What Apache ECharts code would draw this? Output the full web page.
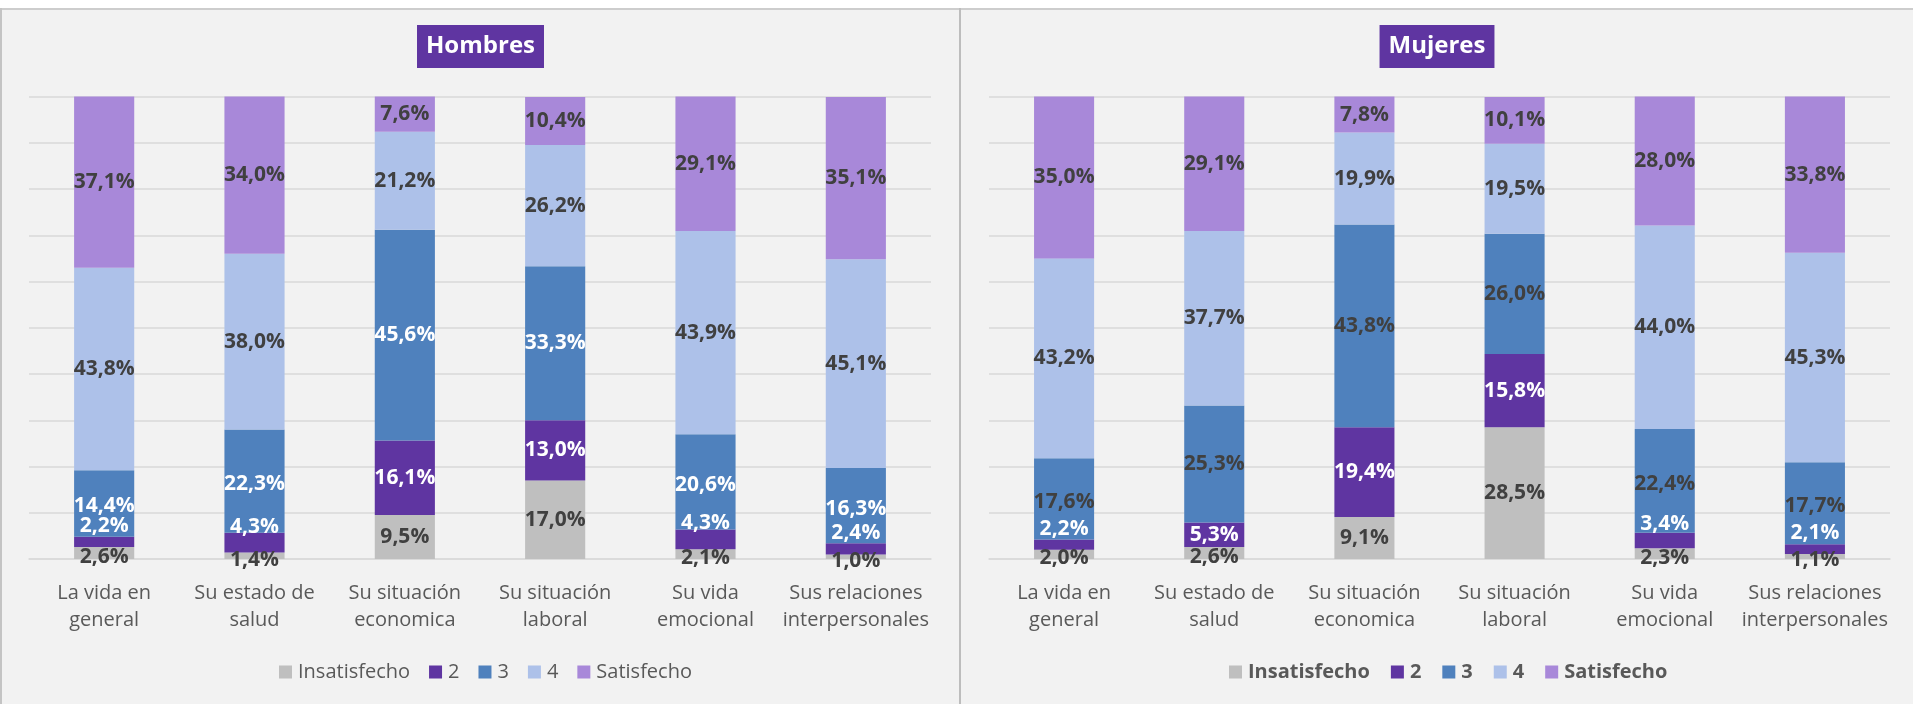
<!DOCTYPE html>
<html>
<head>
<meta charset="utf-8">
<script src="https://cdn.jsdelivr.net/npm/echarts@6/dist/echarts.min.js"></script>
<style>
  html, body { margin: 0; padding: 0; background: #ffffff; width: 1913px; height: 704px; overflow: hidden; }
  #bg { position: absolute; left: 0; top: 8px; width: 1913px; height: 696px; background: #f2f2f2; border-top: 2px solid #cdcdcd; box-sizing: border-box; }
  #lborder { position: absolute; left: 0; top: 8px; width: 2px; height: 696px; background: #c4c4c4; }
  #divider { position: absolute; left: 959px; top: 8px; width: 2px; height: 696px; background: #bdbdbd; }
  #c1 { position: absolute; left: 2px; top: 10px; width: 957px; height: 694px; }
  #c2 { position: absolute; left: 961px; top: 10px; width: 952px; height: 694px; }
</style>
</head>
<body>
<div id="bg"></div>
<div id="lborder"></div>
<div id="divider"></div>
<div id="c1"></div>
<div id="c2"></div>
<script>
// ---- data ----
const categories = ['La vida en\ngeneral', 'Su estado de\nsalud', 'Su situación\neconomica', 'Su situación\nlaboral', 'Su vida\nemocional', 'Sus relaciones\ninterpersonales'];
const seriesNames = ['Insatisfecho', '2', '3', '4', 'Satisfecho'];

const hombresInsatisfecho = [2.6, 1.4, 9.5, 17.0, 2.1, 1.0];
const hombres2            = [2.2, 4.3, 16.1, 13.0, 4.3, 2.4];
const hombres3            = [14.4, 22.3, 45.6, 33.3, 20.6, 16.3];
const hombres4            = [43.8, 38.0, 21.2, 26.2, 43.9, 45.1];
const hombresSatisfecho   = [37.1, 34.0, 7.6, 10.4, 29.1, 35.1];

const mujeresInsatisfecho = [2.0, 2.6, 9.1, 28.5, 2.3, 1.1];
const mujeres2            = [2.2, 5.3, 19.4, 15.8, 3.4, 2.1];
const mujeres3            = [17.6, 25.3, 43.8, 26.0, 22.4, 17.7];
const mujeres4            = [43.2, 37.7, 19.9, 19.5, 44.0, 45.3];
const mujeresSatisfecho   = [35.0, 29.1, 7.8, 10.1, 28.0, 33.8];

const yTicks = [0, 10, 20, 30, 40, 50, 60, 70, 80, 90, 100];

// ---- styles ----
const colors = ['#bfbfbf', '#5f35a1', '#4f81bd', '#adc1e9', '#a888d9'];
const FONT = "'Open Sans', 'Noto Sans', sans-serif";
const DARK = '#404040';
const fmt = v => v.toFixed(1).replace('.', ',') + '%';

function labelOffset(seriesIdx, v) {
  if (seriesIdx === 0 && v < 3) return [0, 4];
  if (seriesIdx === 1 && v < 5) return [0, -16];
  if (seriesIdx === 2 && v < 25) return [0, 3];
  return [0, 0];
}

function buildOption(title, values, labelColors, legendBold, gridLeft, gridWidth, legendGap, legendLeft) {
  return {
    animation: false,
    textStyle: { fontFamily: FONT },
    title: {
      text: title,
      left: 'center',
      top: 15,
      backgroundColor: '#5f35a1',
      padding: [6, 9],
      textStyle: { color: '#ffffff', fontSize: 24, fontWeight: 'bold', fontFamily: FONT, lineHeight: 31 }
    },
    legend: {
      data: seriesNames,
      left: legendLeft,
      top: 647,
      padding: 5,
      itemWidth: 13,
      itemHeight: 13,
      itemGap: legendGap,
      icon: 'rect',
      textStyle: { color: '#595959', fontSize: 20, fontFamily: FONT, fontWeight: legendBold ? 'bold' : 'normal', padding: [0, 0, 0, 1] }
    },
    grid: { left: gridLeft, top: 86.5, width: gridWidth, height: 462.5 },
    xAxis: {
      type: 'category',
      data: categories,
      axisLine: { show: true, lineStyle: { color: '#d9d9d9', width: 1.5 } },
      axisTick: { show: false },
      axisLabel: { color: '#595959', fontSize: 20, fontFamily: FONT, lineHeight: 27, margin: 21, interval: 0 }
    },
    yAxis: {
      type: 'value',
      min: yTicks[0],
      max: yTicks[yTicks.length - 1],
      interval: yTicks[1] - yTicks[0],
      axisLabel: { show: false },
      axisLine: { show: false },
      axisTick: { show: false },
      splitLine: { show: true, lineStyle: { color: '#d9d9d9', width: 1.5 } }
    },
    series: values.map((arr, si) => ({
      name: seriesNames[si],
      type: 'bar',
      stack: 'total',
      barWidth: '40%',
      itemStyle: { color: colors[si] },
      label: {
        show: true,
        position: 'inside',
        color: labelColors[si],
        fontSize: 21,
        fontWeight: 'bold',
        fontFamily: FONT,
        formatter: p => fmt(p.value)
      },
      data: arr.map(v => ({ value: v, label: { offset: labelOffset(si, v) } }))
    }))
  };
}

const c1 = echarts.init(document.getElementById('c1'), null, { renderer: 'canvas' });
c1.setOption(buildOption('Hombres',
  [hombresInsatisfecho, hombres2, hombres3, hombres4, hombresSatisfecho],
  [DARK, '#ffffff', '#ffffff', DARK, DARK], false, 27, 902, 19, 272));

const c2 = echarts.init(document.getElementById('c2'), null, { renderer: 'canvas' });
c2.setOption(buildOption('Mujeres',
  [mujeresInsatisfecho, mujeres2, mujeres3, mujeres4, mujeresSatisfecho],
  [DARK, '#ffffff', DARK, DARK, DARK], true, 28, 901, 21, 263));
</script>
</body>
</html>
